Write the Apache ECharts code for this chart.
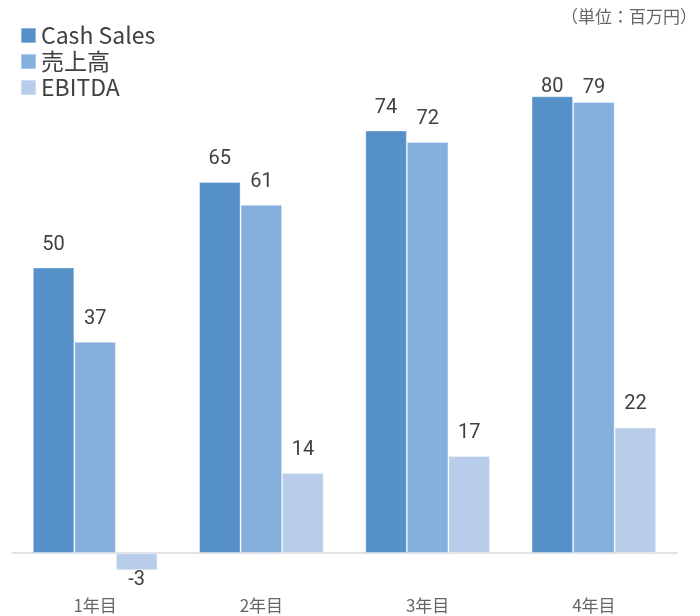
<!DOCTYPE html>
<html>
<head>
<meta charset="utf-8">
<script src="https://cdn.jsdelivr.net/npm/echarts@6/dist/echarts.min.js"></script>
<style>
  html, body { margin: 0; padding: 0; background: #fff; }
  #chart { width: 700px; height: 616px; }
</style>
</head>
<body>
<div id="chart"></div>
<script>
// Categories and series values (百万円)
const categories = ['1年目', '2年目', '3年目', '4年目'];
const seriesNames = ['Cash Sales', '売上高', 'EBITDA'];
const cashSales = [50, 65, 74, 80];
const sales = [37, 61, 72, 79];
const ebitda = [-3, 14, 17, 22];
const unitText = '（単位：百万円）';

const colors = ['#5591c8', '#85afdd', '#b8cde9'];
const font = '"Noto Sans CJK JP", "Noto Sans", sans-serif';
const valueFont = 'Roboto, "Noto Sans", sans-serif';

// Labels near the top edge sit closer to their bars
const labelDistance = { 80: -1, 79: 4 };

function toData(values) {
  return values.map(v => {
    if (v < 0) return { value: v, label: { position: 'bottom', distance: 0 } };
    if (labelDistance[v] !== undefined) return { value: v, label: { distance: labelDistance[v] } };
    return v;
  });
}

function makeSeries(name, values, color) {
  return {
    name: name,
    type: 'bar',
    xAxisIndex: 0,
    data: toData(values),
    barGap: '0%',
    barCategoryGap: '25%',
    itemStyle: { color: color, borderColor: 'rgba(255,255,255,0.35)', borderWidth: 1 },
    label: {
      show: true,
      position: 'top',
      distance: 13,
      color: '#404040',
      fontSize: 20,
      fontFamily: valueFont
    }
  };
}

const chart = echarts.init(document.getElementById('chart'), null, { renderer: 'canvas' });
chart.setOption({
  animation: false,
  color: colors,
  textStyle: { fontFamily: font },
  graphic: [{
    type: 'text',
    right: 3,
    top: 8,
    style: { text: unitText, fontSize: 17, fill: '#666666', fontFamily: font }
  }],
  legend: {
    orient: 'vertical',
    left: 15,
    top: 19,
    itemWidth: 15,
    itemHeight: 15,
    itemGap: 3,
    icon: 'rect',
    textStyle: { fontSize: 23, color: '#404040', fontFamily: font },
    data: seriesNames
  },
  grid: { left: 12, right: 23, top: 73.4, bottom: 28.7, containLabel: false },
  xAxis: [{
    type: 'category',
    data: categories,
    position: 'bottom',
    axisLine: { show: false, onZero: false },
    axisTick: { show: false },
    axisLabel: { color: '#666666', fontSize: 17, margin: 10, fontFamily: font }
  }, {
    type: 'category',
    data: categories,
    position: 'bottom',
    axisLine: { show: true, onZero: true, lineStyle: { color: '#d9d9d9', width: 1.5 } },
    axisTick: { show: false },
    axisLabel: { show: false }
  }],
  yAxis: {
    type: 'value',
    min: -6,
    max: 84,
    show: false,
    splitLine: { show: false }
  },
  series: [
    makeSeries(seriesNames[0], cashSales, colors[0]),
    makeSeries(seriesNames[1], sales, colors[1]),
    makeSeries(seriesNames[2], ebitda, colors[2])
  ]
});
</script>
</body>
</html>
